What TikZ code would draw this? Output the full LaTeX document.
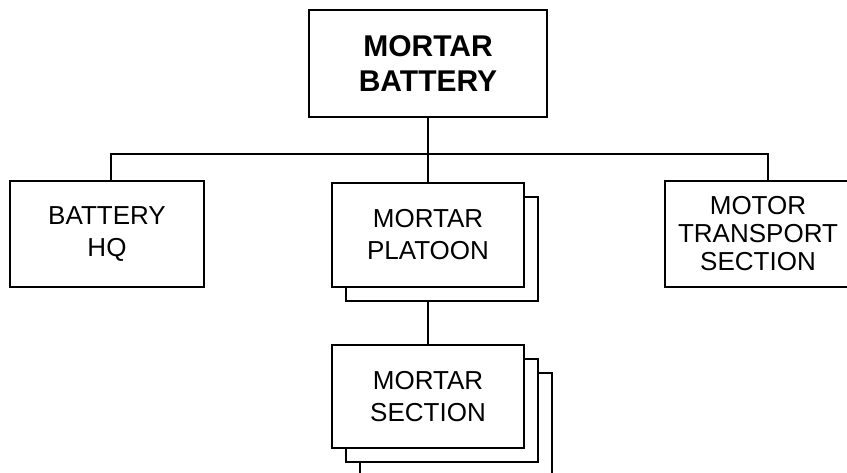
\documentclass[tikz,border=0pt]{standalone}
\usepackage{fontspec}
\setmainfont{Liberation Sans}
\usetikzlibrary{calc}
\tikzset{
  unit/.style={draw, line width=2.3pt, outer sep=0pt, inner sep=0pt,
               align=center, font=\fontsize{26}{32}\selectfont},
  topunit/.style={unit, font=\bfseries\fontsize{30}{35}\selectfont},
  link/.style={line width=2.3pt},
}
\begin{document}
\begin{tikzpicture}[x=1pt,y=-1pt]
  \useasboundingbox (0,0) rectangle (847,472);
  \clip (0,0) rectangle (847,472);

  % --- Parameters ---
  \def\off{14}

  % --- Boxes ---
  \node[topunit, minimum width=238pt, minimum height=107pt]
       (bty) at (428,63.5) {MORTAR\\BATTERY};
  \node[unit, minimum width=194pt, minimum height=106pt]
       (hq) at (107,234) {BATTERY\\HQ};
  \node[unit, minimum width=192pt, minimum height=104pt]
       (plt) at (428,235) {MORTAR\\PLATOON};
  \node[unit, minimum width=186pt, minimum height=106pt,
        font=\fontsize{26}{28}\selectfont]
       (mt) at (758,234) {MOTOR\\TRANSPORT\\SECTION};
  \node[unit, minimum width=192pt, minimum height=103pt]
       (sec) at (428,396.5) {MORTAR\\SECTION};

  % --- Stacked copies ---
  \draw[link] ($(plt.north east)+(0,\off)$) -- ++(\off,0)
       |- ($(plt.south west)+(\off,\off)$) -- ++(0,-\off);
  \draw[link] ($(sec.north east)+(0,\off)$) -- ++(\off,0)
       |- ($(sec.south west)+(\off,\off)$) -- ++(0,-\off);
  \draw[link] ($(sec.north east)+({\off},{2*\off})$) -- ++(\off,0)
       |- ($(sec.south west)+({2*\off},{2*\off})$) -- ++(0,-\off);

  % --- Lines ---
  \coordinate (bus) at (428,154);
  \draw[link] (bty.south) -- (plt.north);
  \draw[link] ([xshift=4pt]hq.north) |- (bus) -| ([xshift=10pt]mt.north);
  \draw[link] ([yshift=-\off pt]plt.south) -- (sec.north);
\end{tikzpicture}
\end{document}
